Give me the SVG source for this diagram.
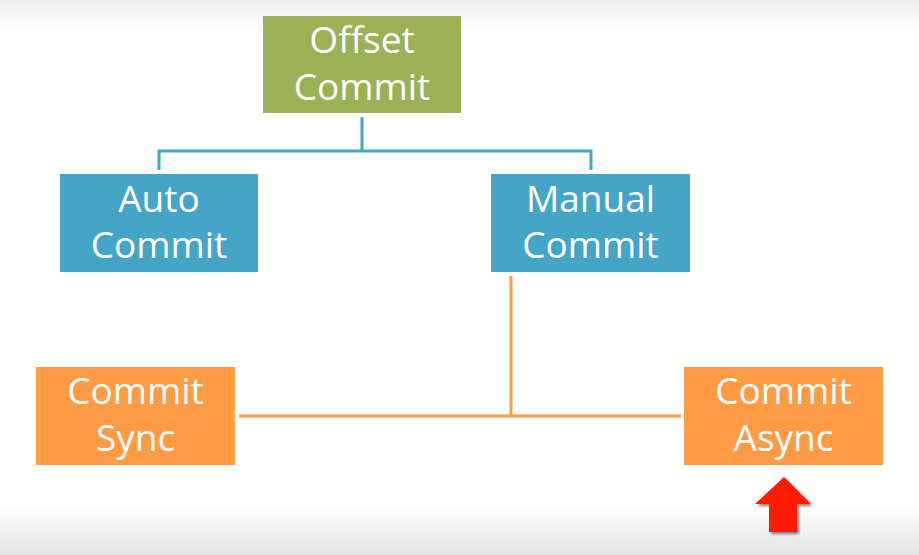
<svg xmlns="http://www.w3.org/2000/svg" width="919" height="555" viewBox="0 0 919 555">
<defs>
<linearGradient id="topg" x1="0" y1="0" x2="0" y2="1"><stop offset="0" stop-color="#ececec"/><stop offset="1" stop-color="#ffffff"/></linearGradient>
<linearGradient id="botg" x1="0" y1="0" x2="0" y2="1"><stop offset="0" stop-color="#ffffff"/><stop offset="1" stop-color="#e4e4e4"/></linearGradient>
<filter id="sh" x="-30%" y="-30%" width="160%" height="160%"><feGaussianBlur in="SourceAlpha" stdDeviation="1.5"/><feOffset dx="2" dy="2"/><feComponentTransfer><feFuncA type="linear" slope="0.5"/></feComponentTransfer><feMerge><feMergeNode/><feMergeNode in="SourceGraphic"/></feMerge></filter>
</defs>
<style>
.t{font-family:"Open Sans","Noto Sans",sans-serif;font-size:37px;fill:#ffffff;text-anchor:middle}
.green{fill:#9bb155}
.blue{fill:#45a5c8}
.orange{fill:#ff9a45}
.bl{stroke:#45a5c8;stroke-width:3;fill:none}
.ol{stroke:#ff9a45;stroke-width:3;fill:none}
</style>
<rect x="0" y="0" width="919" height="555" fill="#ffffff"/>
<rect x="0" y="0" width="919" height="30" fill="url(#topg)"/>
<rect x="0" y="505" width="919" height="50" fill="url(#botg)"/>
<g id="connectors">
<path class="bl" d="M362 117 V151 M159 170 V151 H591 V170"/>
<path class="ol" d="M511 276 V416 M239 416 H681"/>
</g>
<g id="offset-commit">
<rect class="green" x="263" y="16" width="198" height="97"/>
<text class="t" x="362" y="53">Offset</text>
<text class="t" x="362" y="100">Commit</text>
</g>
<g id="auto-commit">
<rect class="blue" x="60" y="174" width="198" height="98"/>
<text class="t" x="159" y="212">Auto</text>
<text class="t" x="159" y="258">Commit</text>
</g>
<g id="manual-commit">
<rect class="blue" x="491" y="174" width="199" height="98"/>
<text class="t" x="590.5" y="212">Manual</text>
<text class="t" x="590.5" y="258">Commit</text>
</g>
<g id="commit-sync">
<rect class="orange" x="36" y="367" width="199" height="98"/>
<text class="t" x="135.5" y="404">Commit</text>
<text class="t" x="135.5" y="451">Sync</text>
</g>
<g id="commit-async">
<rect class="orange" x="684" y="367" width="199" height="98"/>
<text class="t" x="783.5" y="404">Commit</text>
<text class="t" x="783.5" y="451">Async</text>
</g>
<g id="red-arrow">
<polygon points="784,477 811,504 797,504 797,532 769,532 769,504 755,504" fill="#ff1a00" filter="url(#sh)"/>
</g>
</svg>
